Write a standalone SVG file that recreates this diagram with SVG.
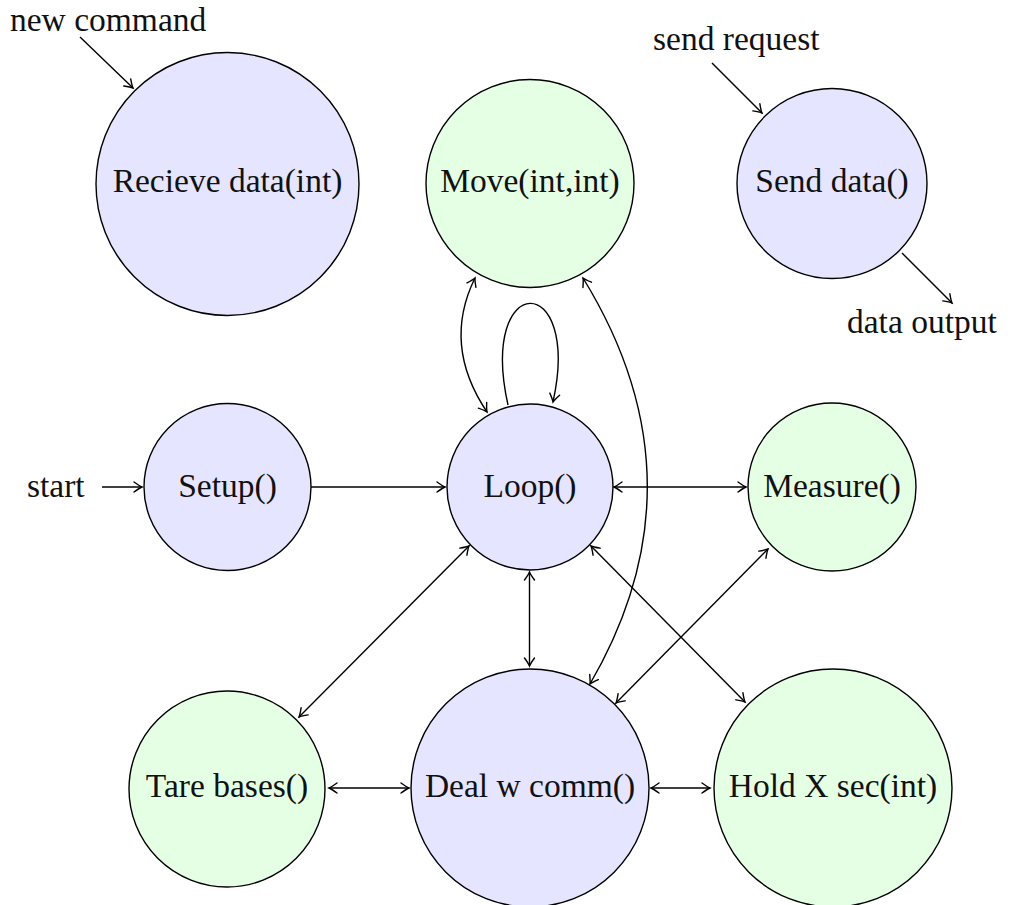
<svg xmlns="http://www.w3.org/2000/svg" width="1014" height="905" viewBox="0 0 1014 905">
<style>
.blue{fill:#e5e5ff;stroke:#000;stroke-width:1.4}
.green{fill:#e5ffe5;stroke:#000;stroke-width:1.4}
text{font-family:"Liberation Serif","Times New Roman",serif;font-size:33.5px;fill:#111}
.c{text-anchor:middle}
.e path{fill:none;stroke:#000;stroke-width:1.4}
.one{marker-end:url(#arr)}
.two{marker-start:url(#arr);marker-end:url(#arr)}
</style>
<defs>
<marker id="arr" markerUnits="userSpaceOnUse" markerWidth="20" markerHeight="20" refX="0" refY="0" orient="auto-start-reverse" overflow="visible">
<path d="M-8,-5 Q-2.5,-1 0,0 Q-2.5,1 -8,5" fill="none" stroke="#000" stroke-width="1.4" stroke-linecap="round"/>
</marker>
</defs>
<rect width="1014" height="905" fill="#fff"/>
<g id="recieve"><circle class="blue" cx="227.5" cy="184" r="131.5"/><text class="c" x="227.5" y="192">Recieve data(int)</text></g>
<g id="move"><circle class="green" cx="530" cy="183.5" r="104"/><text class="c" x="530" y="192">Move(int,int)</text></g>
<g id="send"><circle class="blue" cx="832" cy="183.5" r="95"/><text class="c" x="832" y="192">Send data()</text></g>
<g id="setup"><circle class="blue" cx="227.5" cy="487" r="83.5"/><text class="c" x="227.5" y="497">Setup()</text></g>
<g id="loop"><circle class="blue" cx="530" cy="487" r="83"/><text class="c" x="530" y="497">Loop()</text></g>
<g id="measure"><circle class="green" cx="832" cy="487" r="84"/><text class="c" x="832" y="497">Measure()</text></g>
<g id="tare"><circle class="green" cx="227" cy="789" r="98"/><text class="c" x="227" y="797">Tare bases()</text></g>
<g id="deal"><circle class="blue" cx="530" cy="788" r="119"/><text class="c" x="530" y="797">Deal w comm()</text></g>
<g id="hold"><circle class="green" cx="833" cy="788" r="119"/><text class="c" x="833" y="797">Hold X sec(int)</text></g>
<g id="labels">
<text x="10" y="31">new command</text>
<text x="653" y="50">send request</text>
<text x="847" y="333">data output</text>
<text x="27" y="497">start</text>
</g>
<g id="edges" class="e">
<path class="one" d="M80,37 L133,88"/>
<path class="one" d="M712,63 L762,113"/>
<path class="one" d="M902,253 L952,303"/>
<path class="one" d="M102,487 L142,487"/>
<path class="one" d="M311,487 L445,487"/>
<path class="two" d="M614,487 L746,487"/>
<path class="two" d="M529.5,572 L529.5,666"/>
<path class="two" d="M469,546 L299,717"/>
<path class="two" d="M591,546 L745,702"/>
<path class="two" d="M768,549 L616,703"/>
<path class="two" d="M329,788 L409,788"/>
<path class="two" d="M651,788 L710,788"/>
<path class="two" d="M475,278 Q442,345 487,412"/>
<path class="one" d="M508,405 C478,270 582,270 553,402"/>
<path class="two" d="M583,278 Q708,481 590,684"/>
</g>
</svg>
